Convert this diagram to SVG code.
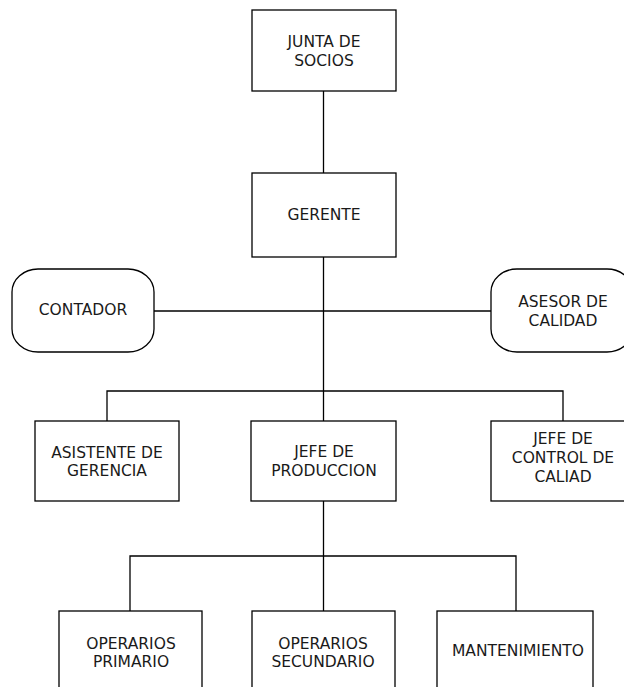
<svg xmlns="http://www.w3.org/2000/svg" width="624" height="687" viewBox="0 0 624 687">
<style>
.box{fill:#fff;stroke:#000;stroke-width:1.3}
.con{fill:none;stroke:#000;stroke-width:1.3}
text{font-family:"DejaVu Sans",Verdana,sans-serif;font-size:15.5px;fill:#1a1a1a;text-anchor:middle}
</style>
<rect width="624" height="687" fill="#fff"/>
<g id="connectors" class="con">
<path d="M323.5,91V173"/>
<path d="M323.5,257V421"/>
<path d="M154,311H491"/>
<path d="M107,421V391H563V421"/>
<path d="M323.5,501V611"/>
<path d="M130,611V556H516V611"/>
</g>
<g id="junta"><rect class="box" x="252" y="10" width="144" height="81"/><text x="324" y="47">JUNTA DE</text><text x="324" y="66">SOCIOS</text></g>
<g id="gerente"><rect class="box" x="252" y="173" width="144" height="84"/><text x="324" y="220">GERENTE</text></g>
<g id="contador"><rect class="box" x="12" y="269" width="142" height="83" rx="26" ry="23"/><text x="83" y="315">CONTADOR</text></g>
<g id="asesor"><rect class="box" x="491" y="269" width="142" height="83" rx="26" ry="23"/><text x="563" y="306.5">ASESOR DE</text><text x="563" y="325.5">CALIDAD</text></g>
<g id="asistente"><rect class="box" x="35" y="421" width="144" height="80"/><text x="107" y="458">ASISTENTE DE</text><text x="107" y="476">GERENCIA</text></g>
<g id="jefe-produccion"><rect class="box" x="251" y="421" width="145" height="80"/><text x="324" y="457">JEFE DE</text><text x="324" y="476">PRODUCCION</text></g>
<g id="jefe-control"><rect class="box" x="491" y="421" width="144" height="80"/><text x="563" y="444">JEFE DE</text><text x="563" y="463">CONTROL DE</text><text x="563" y="482">CALIAD</text></g>
<g id="operarios-primario"><rect class="box" x="59" y="611" width="143" height="90"/><text x="131" y="649">OPERARIOS</text><text x="131" y="667">PRIMARIO</text></g>
<g id="operarios-secundario"><rect class="box" x="252" y="611" width="143" height="90"/><text x="323" y="649">OPERARIOS</text><text x="323" y="667">SECUNDARIO</text></g>
<g id="mantenimiento"><rect class="box" x="437" y="611" width="156" height="90"/><text x="518" y="656">MANTENIMIENTO</text></g>
</svg>
